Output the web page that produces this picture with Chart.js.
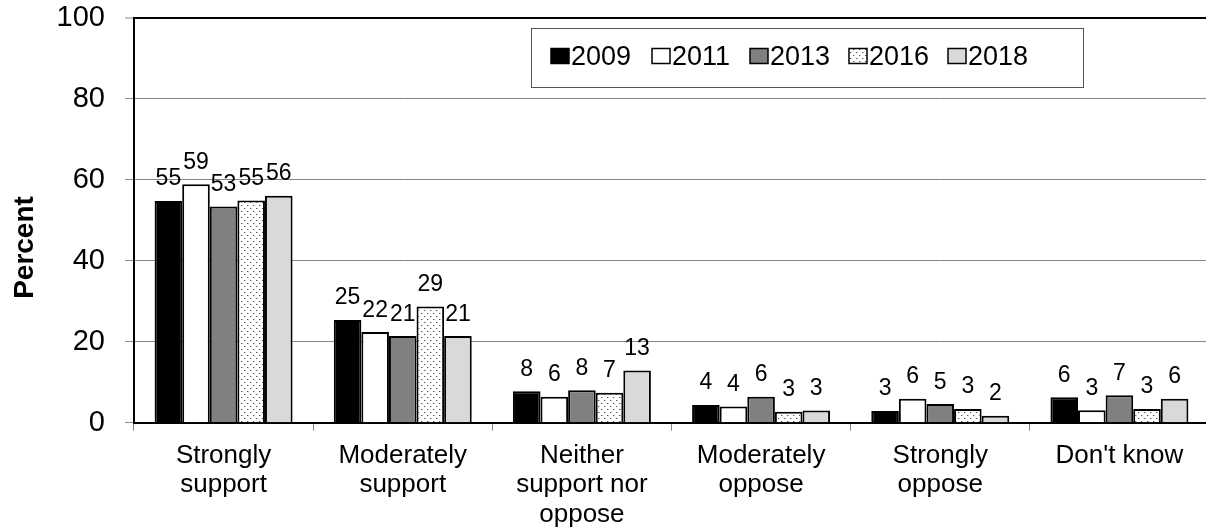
<!DOCTYPE html>
<html>
<head>
<meta charset="utf-8">
<script src="https://cdn.jsdelivr.net/npm/chart.js@4/dist/chart.umd.min.js"></script>
<style>
  html, body { margin: 0; padding: 0; background: #fff; overflow: hidden; }
  #wrap { width: 1206px; height: 531px; overflow: hidden; position: relative; }
  canvas { display: block; }
</style>
</head>
<body>
<div id="wrap"><canvas id="c" width="1212" height="531" style="width:1212px;height:531px"></canvas></div>
<script>
// ---- Data ----
const categories = [
  ['Strongly', 'support'],
  ['Moderately', 'support'],
  ['Neither', 'support nor', 'oppose'],
  ['Moderately', 'oppose'],
  ['Strongly', 'oppose'],
  ["Don't know"]
];
const years = ['2009', '2011', '2013', '2016', '2018'];
const values2009 = [54.8, 25.4, 7.8, 4.4, 2.9, 6.3];
const values2011 = [58.9, 22.4, 6.4, 4.0, 5.9, 3.1];
const values2013 = [53.4, 21.4, 8.0, 6.4, 4.6, 6.8];
const values2016 = [54.9, 28.7, 7.4, 2.7, 3.4, 3.4];
const values2018 = [56.1, 21.4, 12.9, 3.0, 1.7, 5.9];
const yTicks = [0, 20, 40, 60, 80, 100];

const FONT = "'Liberation Sans', Arial, Helvetica, sans-serif";

// dotted pattern for 2016
function makeDots() {
  const t = document.createElement('canvas');
  t.width = 6; t.height = 6;
  const g = t.getContext('2d');
  g.fillStyle = '#fff';
  g.fillRect(0, 0, 6, 6);
  g.fillStyle = '#555';
  g.fillRect(1, 1, 1, 1);
  g.fillRect(4, 4, 1, 1);
  g.fillStyle = 'rgba(85,85,85,0.35)';
  g.fillRect(2, 1, 1, 1);
  g.fillRect(5, 4, 1, 1);
  return document.getElementById('c').getContext('2d').createPattern(t, 'repeat');
}
const dots = makeDots();
const fills = ['#000000', '#ffffff', '#808080', dots, '#d9d9d9'];
const seriesValues = [values2009, values2011, values2013, values2016, values2018];

const datasets = years.map((y, i) => ({
  label: y,
  data: seriesValues[i],
  backgroundColor: fills[i],
  borderColor: '#000',
  borderWidth: 2,
  borderSkipped: 'bottom',
  categoryPercentage: 0.77,
  barPercentage: 1.0
}));

// data labels
const valueLabels = {
  id: 'valueLabels',
  afterDatasetsDraw(chart) {
    const ctx = chart.ctx;
    ctx.save();
    ctx.font = '23px ' + FONT;
    ctx.fillStyle = '#000';
    ctx.textAlign = 'center';
    ctx.textBaseline = 'alphabetic';
    chart.data.datasets.forEach((ds, di) => {
      const meta = chart.getDatasetMeta(di);
      meta.data.forEach((bar, i) => {
        ctx.fillText(String(Math.round(ds.data[i])), bar.x, bar.y - 15.5);
      });
    });
    ctx.restore();
  }
};

// custom legend box + y title
const decor = {
  id: 'decor',
  afterDraw(chart) {
    const ctx = chart.ctx;
    ctx.save();
    // legend box
    const bx = 531, by = 28, bw = 552, bh = 59;
    ctx.fillStyle = '#fff';
    ctx.fillRect(bx, by, bw, bh);
    ctx.strokeStyle = '#555';
    ctx.lineWidth = 1;
    ctx.strokeRect(bx + 0.5, by + 0.5, bw, bh);
    const swX = [551, 652, 750, 849, 948];
    ctx.font = '27px ' + FONT;
    ctx.textBaseline = 'alphabetic';
    ctx.textAlign = 'left';
    chart.data.datasets.forEach((ds, i) => {
      const x = swX[i];
      ctx.fillStyle = ds.backgroundColor;
      ctx.fillRect(x, 48.5, 18, 15);
      ctx.strokeStyle = '#000';
      ctx.lineWidth = 1.5;
      ctx.strokeRect(x, 48.5, 18, 15);
      ctx.fillStyle = '#000';
      ctx.fillText(ds.label, x + 20, 65);
    });
    // y-axis title
    ctx.translate(33, 247.5);
    ctx.rotate(-Math.PI / 2);
    ctx.font = 'bold 28px ' + FONT;
    ctx.textAlign = 'center';
    ctx.fillStyle = '#000';
    ctx.fillText('Percent', 0, 0);
    ctx.restore();
  }
};

new Chart(document.getElementById('c'), {
  type: 'bar',
  data: { labels: categories, datasets },
  options: {
    responsive: false,
    animation: false,
    devicePixelRatio: 1,
    layout: { padding: { top: 18, right: 3, left: 0, bottom: 0 } },
    plugins: {
      legend: { display: false },
      tooltip: { enabled: false }
    },
    scales: {
      x: {
        afterFit(scale) { scale.height = 108.3; scale.paddingLeft = 0; scale.paddingRight = 0; },
        grid: {
          offset: true,
          drawOnChartArea: false,
          drawTicks: true,
          tickLength: 8,
          tickColor: '#888',
          tickWidth: 1
        },
        border: { color: '#000', width: 2 },
        ticks: {
          color: '#000',
          font: { family: FONT, size: 26, lineHeight: 1.135 },
          padding: 10,
          maxRotation: 0,
          autoSkip: false
        }
      },
      y: {
        min: 0,
        max: 100,
        afterFit(scale) { scale.width = 134; scale.paddingTop = 0; scale.paddingBottom = 0; },
        afterBuildTicks(scale) { scale.ticks = yTicks.map(v => ({ value: v })); },
        grid: {
          color: ctx => (ctx.tick && ctx.tick.value === 100 ? '#000' : '#868686'),
          lineWidth: ctx => (ctx.tick && ctx.tick.value === 100 ? 2 : 1),
          drawTicks: true,
          tickLength: 9,
          tickColor: '#888',
          tickWidth: 1
        },
        border: { color: '#000', width: 2 },
        ticks: {
          color: '#000',
          font: { family: FONT, size: 29 },
          padding: 20
        }
      }
    }
  },
  plugins: [valueLabels, decor]
});
</script>
</body>
</html>
